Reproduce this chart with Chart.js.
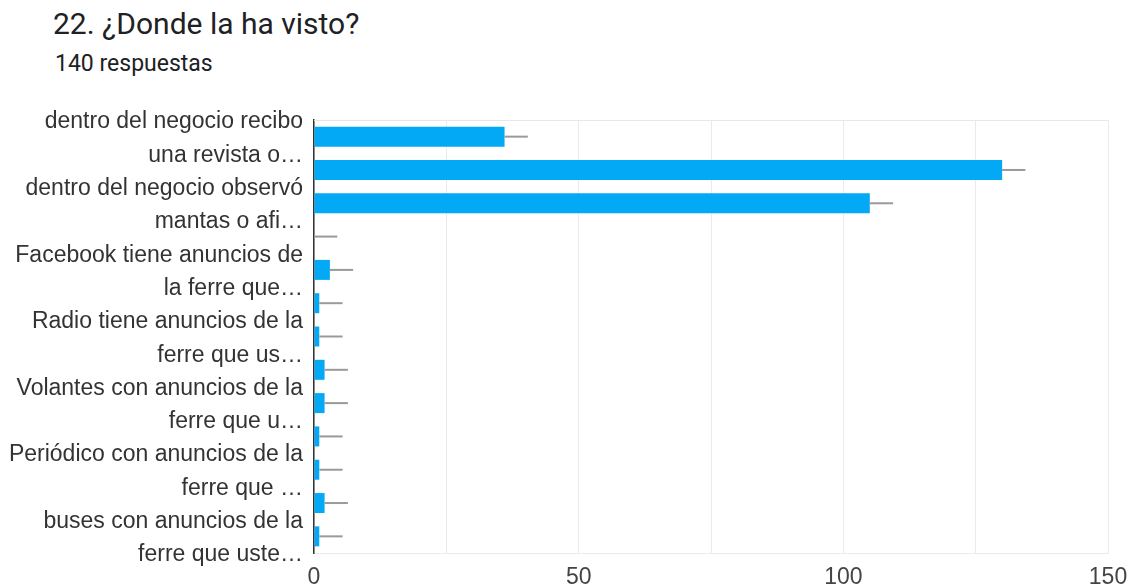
<!DOCTYPE html>
<html>
<head>
<meta charset="utf-8">
<script src="https://cdn.jsdelivr.net/npm/chart.js@4.4.1/dist/chart.umd.min.js"></script>
<style>
  body { margin: 0; background: #fff; width: 1129px; height: 588px; overflow: hidden; position: relative; }
  h1 { position: absolute; left: 53px; top: 6px; margin: 0; font: 400 30px Roboto, sans-serif; color: #202124; white-space: nowrap; }
  .sub { position: absolute; left: 55px; top: 50px; font: 400 23px Roboto, sans-serif; color: #202124; }
  .box { position: absolute; left: 0; top: 100px; width: 1129px; height: 488px; }
</style>
</head>
<body>
<h1>22. ¿Donde la ha visto?</h1>
<div class="sub">140 respuestas</div>
<div class="box"><canvas id="myChart"></canvas></div>
<script>
// answers, every other one gets a label on the axis
const categories = [
    ['dentro del negocio recibo', 'una revista o…'], '',
    ['dentro del negocio observó', 'mantas o afi…'], '',
    ['Facebook tiene anuncios de', 'la ferre que…'], '',
    ['Radio tiene anuncios de la', 'ferre que us…'], '',
    ['Volantes con anuncios de la', 'ferre que u…'], '',
    ['Periódico con anuncios de la', 'ferre que …'], '',
    ['buses con anuncios de la', 'ferre que uste…']
];
const counts = [36, 130, 105, 0, 3, 1, 1, 2, 2, 1, 1, 2, 1];
// whisker length past the end of each bar
const margins = [4.4, 4.4, 4.4, 4.4, 4.4, 4.4, 4.4, 4.4, 4.4, 4.4, 4.4, 4.4, 4.4];
const xTicks = [0, 50, 100, 150];

const ctx = document.getElementById('myChart');
const labelFont = "'Liberation Sans', Arial, sans-serif";

const whiskers = {
    id: 'whiskers',
    afterDatasetsDraw(chart) {
        const x = chart.scales.x;
        const area = chart.chartArea;
        const c = chart.ctx;
        c.save();
        // top edge of the frame
        c.strokeStyle = '#e8e8e8';
        c.lineWidth = 1;
        c.beginPath();
        c.moveTo(area.left, area.top + 0.5);
        c.lineTo(area.right, area.top + 0.5);
        c.stroke();

        c.strokeStyle = '#9a9a9a';
        c.lineWidth = 2;
        chart.getDatasetMeta(0).data.forEach((bar, i) => {
            const x0 = x.getPixelForValue(counts[i]);
            const x1 = x.getPixelForValue(counts[i] + margins[i]);
            c.beginPath();
            c.moveTo(x0, bar.y);
            c.lineTo(x1, bar.y);
            c.stroke();
        });
        c.restore();
    }
};

new Chart(ctx, {
    type: 'bar',
    data: {
        labels: categories,
        datasets: [{
            data: counts,
            backgroundColor: '#03a9f4',
            categoryPercentage: 1,
            barPercentage: 0.6
        }]
    },
    options: {
        indexAxis: 'y',
        responsive: true,
        maintainAspectRatio: false,
        animation: false,
        layout: { padding: { top: 20, right: 21, left: 0, bottom: 0 } },
        plugins: {
            legend: { display: false },
            tooltip: { enabled: false }
        },
        scales: {
            x: {
                min: 0,
                max: 150,
                ticks: {
                    stepSize: 25,
                    padding: 11,
                    color: '#444',
                    font: { family: labelFont, size: 23 },
                    callback: v => xTicks.includes(v) ? v : ''
                },
                grid: { color: '#ebebeb', drawTicks: false },
                border: { color: '#ebebeb' },
                afterFit: s => {
                    s.height = 35;
                    s.paddingLeft = 0;
                    s.paddingRight = 0;
                }
            },
            y: {
                z: 1,
                ticks: {
                    autoSkip: false,
                    padding: 3,
                    labelOffset: 2,
                    color: '#333',
                    font: { family: labelFont, size: 23, lineHeight: 1.45 }
                },
                grid: { display: false },
                border: { color: '#333', width: 1.5 },
                afterFit: s => {
                    s.width = 314;
                    s.paddingTop = 0;
                    s.paddingBottom = 0;
                }
            }
        }
    },
    plugins: [whiskers]
});
</script>
</body>
</html>
